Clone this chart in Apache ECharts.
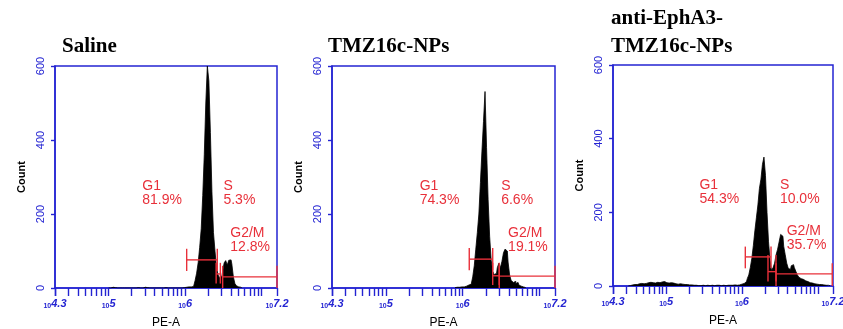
<!DOCTYPE html>
<html><head><meta charset="utf-8">
<script src="https://cdn.jsdelivr.net/npm/echarts@6/dist/echarts.min.js"></script>
<style>html,body{margin:0;padding:0;background:#fff}#c{width:843px;height:329px}</style>
</head><body><div id="c"></div>
<script>
// ---------- data ----------
const panelTitles = ['Saline', 'TMZ16c-NPs', 'anti-EphA3-\nTMZ16c-NPs'];
const xTickValues = [4.3, 5, 6, 7.2];          // log10(PE-A)
const xTickLabels = ['4.3', '5', '6', '7.2'];
const yTicks = [0, 200, 400, 600];
const binStep = 0.02;                            // histogram bin width in log10 units

const salineStart = 5.00;
const salineCounts = [
  0,0,0,2,1,0,0,0,0,0, 0,1,0,0,0,0,0,0,0,1, 2,0,0,1,2,1,0,0,0,1, 0,0,0,0,0,0,0,1,0,0, 0,0,0,0,1,0,0,1,0,1,
  1,2,3,2,3,4,8,20,40,68, 110,160,250,360,500,600,560,420,260,150, 100,55,35,28,32,45,68,74,62,75, 76,65,30,12,6,3,2,1
];
const tmzStart = 5.90;
const tmzCounts = [
  1,2,3,2,3,4,3,5,6,8, 10,14,30,60,105,150,200,285,370,450, 531,380,240,140,75,45,36,40,55,67,
  55,72,95,105,100,70,35,20,15,18, 12,15,8,5,3,2,1
];
const antiStart = 4.50;
const antiCounts = [
  0,1,2,3,4,5,4,6,5,7, 6,8,7,9,8,10,9,11,8,10, 12,9,11,10,12,9,10,8,9,7, 8,6,7,5,6,4,5,4,3,4,
  3,2,3,2,3,2,1,2,1,2, 1,1,2,1,1,2,1,1,2,1, 2,1,2,2,1,2,2,2,3,2, 3,3,2,
  3,4,5,7,9,12,20,30,50,75, 110,150,185,220,265,290,330,350,300,200, 120,70,42,50,62,85,100,120,140,135,
  108,85,62,48,45,55,58,50,40,30, 24,20,18,15,14,12,10,9,8,7, 6,5,5,4,4,3,3,2,2,2, 1
];

// gates: [start, end, level, barLow, barHigh]
const salineGates = [[6.02, 6.42, 76, 46, 106], [6.405, 6.46, 38, 12, 68], [6.49, 7.2, 30, 0, 60]];
const tmzGates    = [[6.085, 6.39, 78, 48, 108], [6.39, 6.475, 33, 8, 68], [6.475, 7.2, 32, 0, 60]];
const antiGates   = [[6.044, 6.383, 79, 48, 107], [6.343, 6.449, 39, 12, 84], [6.449, 7.19, 33, 0, 62]];

const g1Text  = ['81.9%', '74.3%', '54.3%'];
const sText   = ['5.3%', '6.6%', '10.0%'];
const g2mText = ['12.8%', '19.1%', '35.7%'];

// ---------- layout / style ----------
const BLUE = '#2424d2', RED = '#e8303a';
const grids = [
  {left: 55, top: 66, width: 222, height: 222},
  {left: 332, top: 66, width: 223, height: 222},
  {left: 613, top: 65, width: 220, height: 221}
];
const titlePos = [{left: 62, top: 33}, {left: 328, top: 33}, {left: 611, top: 5}];
// annotation anchors (data units, top-left of text)
const annotAnchors = {g1: [5.44, 294], s: [6.50, 294], g2m: [6.59, 167]};

const histSets = [[salineStart, salineCounts], [tmzStart, tmzCounts], [antiStart, antiCounts]];
const gateSets = [salineGates, tmzGates, antiGates];

function minorTicks() {
  const v = [4.3];
  for (let k = 4; k <= 7; k++) for (let m = 1; m <= 9; m++) {
    const t = k + Math.log10(m);
    if (t > 4.3 + 1e-6 && t < 7.2 - 1e-6) v.push(t);
  }
  v.push(7.2);
  return v;
}

const option = {
  animation: false,
  backgroundColor: '#fff',
  title: panelTitles.map((t, i) => ({
    text: t, left: titlePos[i].left, top: titlePos[i].top, padding: 0,
    textStyle: {fontFamily: 'Liberation Serif', fontWeight: 'bold', fontSize: 21, lineHeight: 28, color: '#000'}
  })),
  grid: grids.map(g => Object.assign({show: true, borderColor: BLUE, borderWidth: 1.5,
    backgroundColor: 'transparent', containLabel: false, outerBoundsMode: 'none'}, g)),
  xAxis: grids.map((g, i) => ({
    type: 'value', gridIndex: i, min: 4.3, max: 7.2,
    name: 'PE-A', nameLocation: 'middle', nameGap: 29,
    nameTextStyle: {fontFamily: 'Liberation Sans', fontSize: 12, color: '#000'},
    axisLine: {show: true, lineStyle: {color: BLUE, width: 1.5}},
    axisTick: {show: true, length: 8, customValues: minorTicks(), lineStyle: {color: BLUE, width: 1.4}},
    splitLine: {show: false},
    axisLabel: {
      customValues: xTickValues, margin: 10, color: BLUE,
      formatter: v => {
        const idx = xTickValues.findIndex(t => Math.abs(t - v) < 1e-6);
        return '{b|10}{e|' + (idx >= 0 ? xTickLabels[idx] : v) + '}';
      },
      rich: {
        b: {fontSize: 7, fontFamily: 'Liberation Sans', fontWeight: 'bold', color: BLUE, padding: [5, 0, 0, 0]},
        e: {fontSize: 11, fontFamily: 'Liberation Sans', fontWeight: 'bold', fontStyle: 'italic', color: BLUE}
      }
    }
  })),
  yAxis: grids.map((g, i) => ({
    type: 'value', gridIndex: i, min: 0, max: 600, interval: 200,
    name: 'Count', nameLocation: 'middle', nameGap: 28,
    nameTextStyle: {fontFamily: 'Liberation Sans', fontSize: 11, fontWeight: 'bold', color: '#000'},
    axisLine: {show: true, lineStyle: {color: BLUE, width: 1.5}},
    axisTick: {show: true, length: 4, lineStyle: {color: BLUE, width: 1.4}},
    splitLine: {show: false},
    axisLabel: {rotate: 90, margin: 9, color: BLUE, fontSize: 11, fontFamily: 'Liberation Sans',
      customValues: yTicks}
  })),
  series: []
};

histSets.forEach(([start, counts], i) => {
  option.series.push({
    type: 'line', xAxisIndex: i, yAxisIndex: i, step: 'middle', symbol: 'none',
    data: counts.map((c, j) => [start + j * binStep, c]),
    lineStyle: {color: '#000', width: 0.8},
    areaStyle: {color: '#000', opacity: 1},
    z: 2
  });
  option.series.push({
    type: 'custom', xAxisIndex: i, yAxisIndex: i, clip: false, z: 5,
    data: gateSets[i],
    renderItem: (params, api) => {
      const x0 = api.value(0), x1 = api.value(1), lv = api.value(2), lo = api.value(3), hi = api.value(4);
      const p0 = api.coord([x0, lv]), p1 = api.coord([x1, lv]);
      const a0 = api.coord([x0, lo]), a1 = api.coord([x0, hi]);
      const b0 = api.coord([x1, lo]), b1 = api.coord([x1, hi]);
      const st = {stroke: RED, lineWidth: 1.4};
      return {type: 'group', children: [
        {type: 'line', shape: {x1: p0[0], y1: p0[1], x2: p1[0], y2: p1[1]}, style: st},
        {type: 'line', shape: {x1: a0[0], y1: a0[1], x2: a1[0], y2: a1[1]}, style: st},
        {type: 'line', shape: {x1: b0[0], y1: b0[1], x2: b1[0], y2: b1[1]}, style: st}
      ]};
    }
  });
  const texts = [
    [annotAnchors.g1, 'G1\n' + g1Text[i]],
    [annotAnchors.s, 'S\n' + sText[i]],
    [annotAnchors.g2m, 'G2/M\n' + g2mText[i]]
  ];
  option.series.push({
    type: 'custom', xAxisIndex: i, yAxisIndex: i, clip: false, z: 6,
    data: texts.map(t => [t[0][0], t[0][1], t[1]]),
    renderItem: (params, api) => {
      const p = api.coord([api.value(0), api.value(1)]);
      return {type: 'text', x: p[0], y: p[1], style: {
        text: texts[params.dataIndex][1], fill: RED, font: '14px "Liberation Sans"',
        lineHeight: 14, align: 'left', verticalAlign: 'top'
      }};
    }
  });
});

const chart = echarts.init(document.getElementById('c'), null, {renderer: 'canvas'});
chart.setOption(option);
</script>
</body></html>
